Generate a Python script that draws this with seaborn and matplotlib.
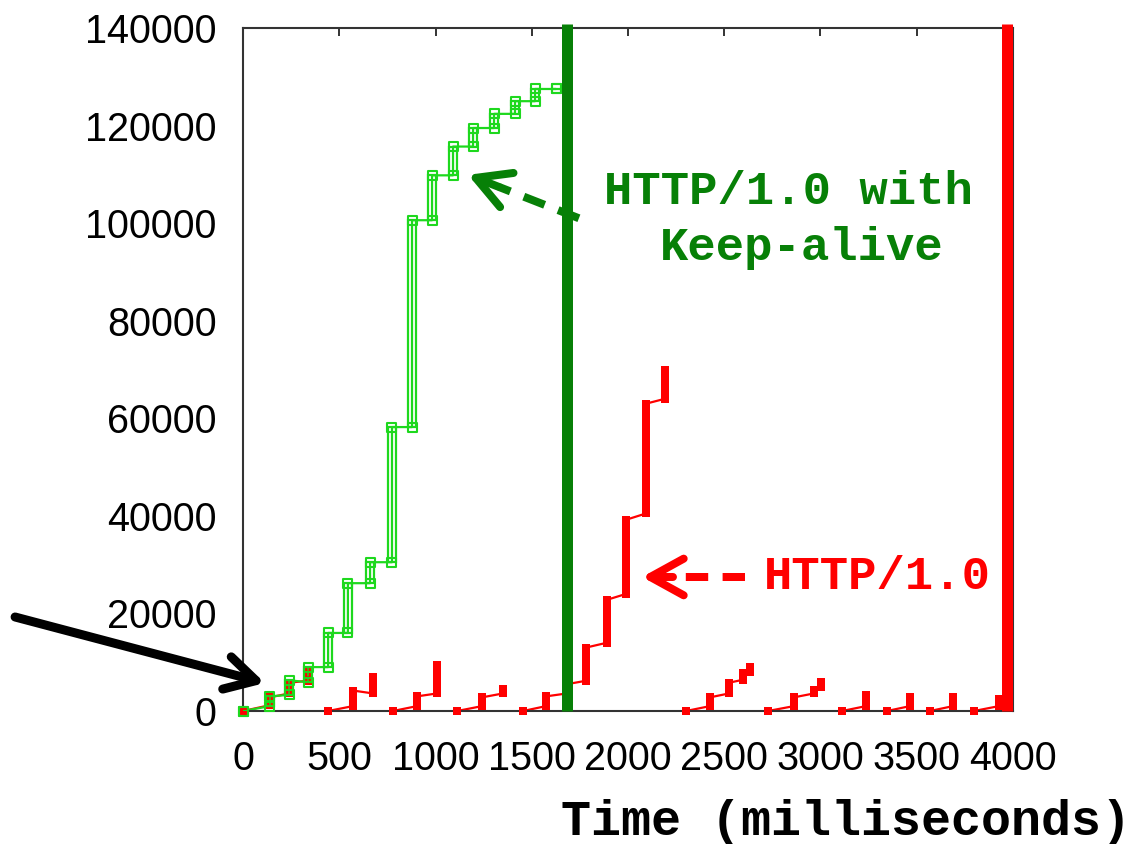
import numpy as np
import pandas as pd
import matplotlib
matplotlib.use("Agg")
import matplotlib.pyplot as plt
import seaborn as sns

# ---------------- data ----------------
# HTTP/1.0 with Keep-alive: bursts (time ms, low seq, high seq)
ka_t  = [0, 140, 239, 338, 442, 545, 660, 774, 878, 982, 1091, 1195, 1304, 1413, 1517, 1626]
ka_lo = [0, 1000, 3300, 5900, 9000, 16000, 26200, 30500, 58200, 100600, 109800, 115700, 119500, 122400, 125000, 127500]
ka_hi = [0, 3000, 6300, 9000, 16000, 26200, 30500, 58200, 100600, 109800, 115700, 119500, 122400, 125000, 127500, 127500]

# HTTP/1.0 (one connection per object): bursts grouped by connection
h10_conn = [0, 0, 0, 0,
            1, 1, 1,
            2, 2, 2,
            3, 3, 3,
            4, 4, 4, 4, 4, 4, 4, 4,
            5, 5, 5, 5, 5,
            6, 6, 6, 6,
            7, 7,
            8, 8,
            9, 9,
            10, 10]
h10_t  = [0, 140, 239, 338,
          442, 571, 675,
          779, 904, 1008,
          1112, 1242, 1351,
          1455, 1574, 1683, 1782, 1891, 1990, 2094, 2192,
          2301, 2426, 2525, 2597, 2634,
          2727, 2862, 2966, 3003,
          3112, 3236,
          3345, 3465,
          3569, 3688,
          3797, 3927]
h10_lo = [0, 1200, 3600, 6200,
          0, 1000, 3600,
          0, 1000, 3600,
          0, 1000, 3600,
          0, 1000, 3600, 6200, 14000, 24000, 40500, 64000,
          0, 1000, 3600, 6400, 8000,
          0, 1000, 3600, 5000,
          0, 1000,
          0, 1000,
          0, 1000,
          0, 1000]
h10_hi = [0, 2800, 5800, 8400,
          0, 4200, 7000,
          0, 3000, 9400,
          0, 2800, 4600,
          0, 3000, 5500, 13000, 22800, 39200, 63000, 70000,
          0, 2800, 5800, 7800, 9000,
          0, 2800, 4400, 6000,
          0, 3200,
          0, 2800,
          0, 2800,
          0, 2400]

ka_end_t = 1683      # end of keep-alive transfer (thick green line)
h10_end_t = 3969     # end of HTTP/1.0 transfer (thick red line)

x_ticks = [0, 500, 1000, 1500, 2000, 2500, 3000, 3500, 4000]
y_ticks = [0, 20000, 40000, 60000, 80000, 100000, 120000, 140000]
x_label = "Time (milliseconds)"
ka_text = ["HTTP/1.0 with", "Keep-alive"]
h10_text = "HTTP/1.0"

# ---------------- style ----------------
sns.set_theme(style="white")
plt.rcParams["font.family"] = ["Liberation Sans", "DejaVu Sans"]

RED = "#ff0000"
LIME = "#1ed81e"
DKGREEN = "#078007"
PX = 72 / 100  # points per pixel

fig = plt.figure(figsize=(11.39, 8.44), dpi=100)
ax = fig.add_axes([243 / 1139, 1 - 711 / 844, 770 / 1139, 683 / 844])


def step_path(t, lo, hi, conn):
    rows = []
    for ti, l, h, c in zip(t, lo, hi, conn):
        rows.append((c, ti, l))
        rows.append((c, ti, h))
    return pd.DataFrame(rows, columns=["conn", "time", "seq"])


# HTTP/1.0 connecting lines
df_h10 = step_path(h10_t, h10_lo, h10_hi, h10_conn)
sns.lineplot(data=df_h10, x="time", y="seq", units="conn", estimator=None,
             sort=False, color=RED, lw=1.6, ax=ax, legend=False)
h10_t_a = np.array(h10_t); h10_lo_a = np.array(h10_lo); h10_hi_a = np.array(h10_hi)
ax.bar(h10_t_a, h10_hi_a - h10_lo_a, bottom=h10_lo_a, width=40, color=RED,
       linewidth=0, zorder=3)
for ys in (h10_lo_a, h10_hi_a):
    ax.scatter(h10_t_a, ys, marker="s", s=(8.5 * PX) ** 2, color=RED,
               linewidths=0, zorder=3, clip_on=False)

# Keep-alive connecting line
df_ka = step_path(ka_t, ka_lo, ka_hi, [0] * len(ka_t))
sns.lineplot(data=df_ka, x="time", y="seq", estimator=None, sort=False,
             color=LIME, lw=1.6, ax=ax, legend=False)
ka_t_a = np.array(ka_t); ka_lo_a = np.array(ka_lo); ka_hi_a = np.array(ka_hi)
ax.bar(ka_t_a, ka_hi_a - ka_lo_a, bottom=ka_lo_a, width=40, fill=False,
       edgecolor=LIME, linewidth=1.6, zorder=4)
ax.vlines(ka_t_a, ka_lo_a, ka_hi_a, colors=LIME, linewidth=1.1,
          linestyles=(0, (2.5, 1.2)), zorder=4)
for ys in (ka_lo_a, ka_hi_a):
    ax.scatter(ka_t_a, ys, marker="s", s=(9 * PX) ** 2, facecolors="none",
               edgecolors=LIME, linewidths=1.5, zorder=4, clip_on=False)

# thick end markers
ax.axvline(ka_end_t, ymin=0, ymax=1.006, color=DKGREEN, lw=11 * PX,
           zorder=5, clip_on=False, solid_capstyle="butt")
ax.axvline(h10_end_t, ymin=0, ymax=1.006, color=RED, lw=11 * PX,
           zorder=5, clip_on=False, solid_capstyle="butt")

# ---------------- axes ----------------
ax.set_xlim(0, 4000)
ax.set_ylim(0, 140000)
ax.set_xticks(x_ticks)
ax.set_xticklabels([str(v) for v in x_ticks])
ax.set_yticks(y_ticks)
ax.set_yticklabels([str(v) for v in y_ticks])
ax.set_xlabel("")
ax.set_ylabel("")
ax.tick_params(axis="both", direction="in", length=8 * PX, width=1.4,
               colors="#333333", labelcolor="black", labelsize=28.5,
               top=True, right=True)
ax.tick_params(axis="y", pad=19)
ax.tick_params(axis="x", pad=21)
for sp in ax.spines.values():
    sp.set_visible(True)
    sp.set_linewidth(1.5)
    sp.set_color("#333333")
ax.set_facecolor("white")
ax.grid(False)

fig.text(1131 / 1139, 1 - 822 / 844, x_label, ha="right", va="center",
         family="Liberation Mono", weight="bold", fontsize=36, color="black")

# ---------------- annotations ----------------
mono = dict(family="Liberation Mono", weight="bold", fontsize=34)
ax.text(2836, 106400, ka_text[0], ha="center", va="center", color=DKGREEN, **mono)
ax.text(2904, 94900, ka_text[1], ha="center", va="center", color=DKGREEN, **mono)
ax.text(3294, 27470, h10_text, ha="center", va="center", color=RED, **mono)


def dashed_arrow(tail, head, color, frac_head=0.3):
    tail = np.array(tail, float); head = np.array(head, float)
    mid = head + (tail - head) * frac_head
    ax.plot([tail[0], mid[0]], [tail[1], mid[1]], color=color, lw=8 * PX,
            linestyle=(0, (2.8, 1.8)), solid_capstyle="butt",
            dash_capstyle="butt", zorder=6, clip_on=False)
    ax.annotate("", xy=tuple(head), xytext=tuple(mid),
                arrowprops=dict(arrowstyle="->,head_length=2.0,head_width=1.1",
                                lw=8 * PX, color=color, shrinkA=0, shrinkB=0,
                                capstyle="round", joinstyle="round"),
                zorder=6, annotation_clip=False)


dashed_arrow((1745, 101000), (1169, 109900), DKGREEN, frac_head=0.28)
dashed_arrow((2608, 27470), (2073, 27470), RED, frac_head=0.3)

# black pointer arrow from outside the axes
ax.annotate("", xy=(114, 5740), xytext=(-1184, 19270),
            arrowprops=dict(arrowstyle="->,head_length=1.8,head_width=1.0",
                            lw=9 * PX, color="black", shrinkA=0, shrinkB=0,
                            capstyle="round", joinstyle="round"),
            zorder=6, annotation_clip=False)

fig.savefig("out.png", dpi=100, facecolor="white")
